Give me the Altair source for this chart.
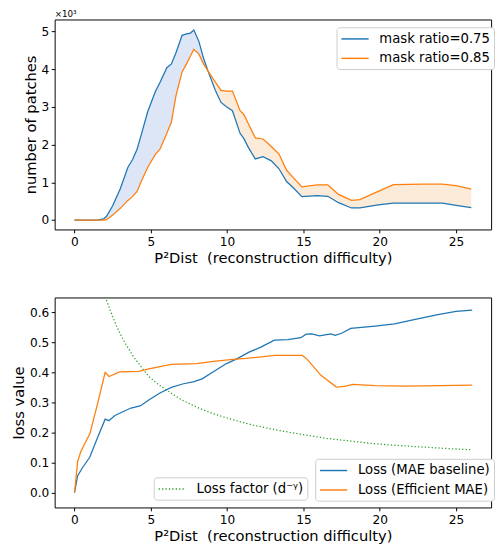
import altair as alt
import pandas as pd

FONT = "DejaVu Sans"

# ---------------- top panel data (number of patches) ----------------
dist_top = [0, 1.5, 1.9, 2.1, 2.5, 3.0, 3.5, 3.8, 4.1, 4.4,
            4.8, 5.3, 5.6, 6.05, 6.35, 6.65, 7.05, 7.35, 7.6, 7.82,
            8.15, 8.45, 8.75, 9.2, 9.6, 10.0, 10.35, 10.85, 11.1, 11.4,
            11.85, 12.35, 12.9, 13.4, 13.9, 14.35, 14.9, 15.9, 16.6, 17.3,
            18.15, 18.7, 19.9, 20.9, 22.9, 24.1, 25.0, 26.0]
mask075 = [0, 0, 30, 100, 380, 830, 1400, 1600, 1880, 2300,
           2880, 3410, 3650, 4040, 4140, 4440, 4900, 4940, 4960, 5040,
           4740, 4300, 3950, 3470, 3120, 2990, 2900, 2300, 2160, 1920,
           1620, 1680, 1570, 1360, 1020, 850, 620, 650, 630, 460,
           320, 320, 400, 450, 450, 450, 390, 330]
mask085 = [0, 0, 0, 10, 130, 310, 520, 620, 760, 1050,
           1400, 1740, 1880, 2300, 2600, 3300, 3930, 4150, 4350, 4530,
           4400, 4150, 3950, 3680, 3440, 3420, 3420, 2900, 2800, 2550,
           2180, 2150, 1950, 1750, 1320, 1120, 880, 930, 930, 680,
           520, 540, 760, 940, 950, 950, 910, 820]

# ---------------- bottom panel data (loss value) ----------------
mae_x = [0, 0.21, 0.53, 1.0, 1.48, 2.01, 2.25, 2.65, 3.1, 3.7,
         4.3, 4.87, 5.6, 6.35, 7.08, 7.84, 8.36, 9.1, 9.96, 10.6,
         11.44, 12.18, 13.1, 13.98, 14.83, 15.18, 15.55, 16.05, 16.8, 17.08,
         17.5, 18.1, 19.7, 20.97, 22.25, 23.73, 25.0, 26.06]
mae_y = [0, 0.057, 0.084, 0.118, 0.18, 0.245, 0.24, 0.257, 0.268, 0.282,
         0.289, 0.309, 0.332, 0.351, 0.362, 0.37, 0.379, 0.403, 0.43, 0.445,
         0.468, 0.484, 0.508, 0.51, 0.516, 0.528, 0.529, 0.522, 0.529, 0.524,
         0.531, 0.547, 0.555, 0.562, 0.576, 0.592, 0.604, 0.608]
eff_x = [0, 0.21, 0.42, 0.63, 1.01, 1.48, 2.01, 2.26, 2.96, 4.23,
         4.87, 6.34, 8.0, 9.09, 10.4, 11.23, 13.13, 14.93, 15.25, 16.15,
         17.16, 17.7, 18.23, 19.7, 21.8, 26.06]
eff_y = [0, 0.105, 0.138, 0.159, 0.197, 0.29, 0.401, 0.387, 0.402, 0.404,
         0.412, 0.427, 0.43, 0.437, 0.444, 0.447, 0.457, 0.457, 0.444, 0.391,
         0.352, 0.354, 0.361, 0.357, 0.355, 0.358]
fac_x = [2.01, 2.33, 2.75, 3.17, 3.81, 4.44, 4.87, 5.5, 6.14, 7.0,
         8.05, 9.1, 10.17, 11.7, 13.34, 14.9, 16.52, 18.1, 19.7, 21.3,
         22.87, 24.5, 26.05]
fac_y = [0.652, 0.609, 0.555, 0.511, 0.457, 0.414, 0.387, 0.36, 0.338, 0.31,
         0.284, 0.263, 0.246, 0.225, 0.208, 0.194, 0.181, 0.172, 0.163, 0.157,
         0.152, 0.147, 0.143]

S075 = "mask ratio=0.75"
S085 = "mask ratio=0.85"
S_MAE = "Loss (MAE baseline)"
S_EFF = "Loss (Efficient MAE)"
S_FAC = "Loss factor (d\u207b\u1d5e)"
BLUE, ORANGE, GREEN = "#1f77b4", "#ff7f0e", "#2ca02c"

XTITLE = "P\u00b2Dist\u00a0\u00a0(reconstruction difficulty)"
xdom = [-1.3, 27.3]
xticks = [0, 5, 10, 15, 20, 25]

W, H = 449, 216


def x_enc(title):
    return alt.X("d:Q", scale=alt.Scale(domain=xdom, nice=False, zero=False),
                 axis=alt.Axis(values=xticks, title=title, labelPadding=3, titlePadding=3))


def legend(x, y, dash=None):
    kw = dict(title=None, orient="none", legendX=x, legendY=y, symbolType="M-1,0H3",
              symbolSize=196, symbolStrokeWidth=1.5, labelFontSize=13.6, labelFont=FONT,
              labelColor="black", padding=4, strokeColor="#cccccc", fillColor="white",
              cornerRadius=3, rowPadding=5, labelOffset=24, labelLimit=0)
    if dash is not None:
        kw["symbolDash"] = dash
    return alt.Legend(**kw)


# ---------- top ----------
top_df = pd.DataFrame({"d": dist_top, "a": mask075, "b": mask085})
top_long = pd.concat([
    pd.DataFrame({"d": dist_top, "v": mask075, "series": S075}),
    pd.DataFrame({"d": dist_top, "v": mask085, "series": S085}),
])
ysc_top = alt.Scale(domain=[-250, 5320], nice=False, zero=False)
y_axis_top = alt.Axis(values=[0, 1000, 2000, 3000, 4000, 5000], labelExpr="datum.value/1000",
                      title="number of patches", labelPadding=2.5, titlePadding=3)

fill_a = alt.Chart(top_df).transform_calculate(hi="max(datum.a, datum.b)").mark_area(
    color="#dde6f7", opacity=1).encode(
    x=x_enc(XTITLE), y=alt.Y("hi:Q", scale=ysc_top, axis=y_axis_top), y2="b:Q")
fill_b = alt.Chart(top_df).transform_calculate(hi="max(datum.a, datum.b)").mark_area(
    color="#fdebd9", opacity=1).encode(
    x=x_enc(XTITLE), y=alt.Y("hi:Q", scale=ysc_top, axis=y_axis_top), y2="a:Q")
lines_top = alt.Chart(top_long).mark_line(strokeWidth=1.3).encode(
    x=x_enc(XTITLE),
    y=alt.Y("v:Q", scale=ysc_top, axis=y_axis_top),
    color=alt.Color("series:N", scale=alt.Scale(domain=[S075, S085], range=[BLUE, ORANGE]),
                    legend=legend(290, 8)),
)
offset_txt = alt.Chart(pd.DataFrame({"t": ["\u00d710\u00b3"]})).mark_text(
    align="left", baseline="alphabetic", fontSize=9, font=FONT, color="black").encode(
    text="t:N", x=alt.value(0), y=alt.value(-3))

top = alt.layer(fill_a, fill_b, lines_top, offset_txt).properties(width=W, height=H)

# ---------- bottom ----------
bot_long = pd.concat([
    pd.DataFrame({"d": mae_x, "v": mae_y, "series": S_MAE}),
    pd.DataFrame({"d": eff_x, "v": eff_y, "series": S_EFF}),
    pd.DataFrame({"d": fac_x, "v": fac_y, "series": S_FAC}),
])
ysc_bot = alt.Scale(domain=[-0.049, 0.65], nice=False, zero=False)
y_axis_bot = alt.Axis(values=[0, 0.1, 0.2, 0.3, 0.4, 0.5, 0.6], format=".1f",
                      title="loss value", labelPadding=2.5, titlePadding=3)

loss_lines = alt.Chart(bot_long).transform_filter(
    alt.FieldOneOfPredicate(field="series", oneOf=[S_MAE, S_EFF])).mark_line(strokeWidth=1.3).encode(
    x=x_enc(XTITLE), y=alt.Y("v:Q", scale=ysc_bot, axis=y_axis_bot),
    color=alt.Color("series:N", scale=alt.Scale(domain=[S_MAE, S_EFF], range=[BLUE, ORANGE]),
                    legend=legend(268, 166)),
)
factor_line = alt.Chart(bot_long).transform_filter(
    alt.FieldEqualPredicate(field="series", equal=S_FAC)).mark_line(
    strokeWidth=1.3, strokeDash=[1.3, 2.2], clip=True).encode(
    x=x_enc(XTITLE), y=alt.Y("v:Q", scale=ysc_bot, axis=y_axis_bot),
    color=alt.Color("series:N", scale=alt.Scale(domain=[S_FAC], range=[GREEN]),
                    legend=legend(102, 185, dash=[1.3, 2.2])),
)
bottom = alt.layer(factor_line, loss_lines).resolve_scale(color="independent").properties(
    width=W, height=H)

chart = alt.vconcat(top, bottom, spacing=31, padding={"left": 3, "top": -7, "right": 0, "bottom": 0}
).configure_axis(
    labelFont=FONT, labelFontSize=12.5, labelColor="black",
    titleFont=FONT, titleFontSize=15.1, titleFontWeight="normal", titleColor="black",
    tickSize=3.5, tickColor="black", tickWidth=1, domain=False, grid=False,
).configure_view(stroke="black", strokeWidth=1)

chart.save("out.html", embed_options={"renderer": "svg", "actions": False})
